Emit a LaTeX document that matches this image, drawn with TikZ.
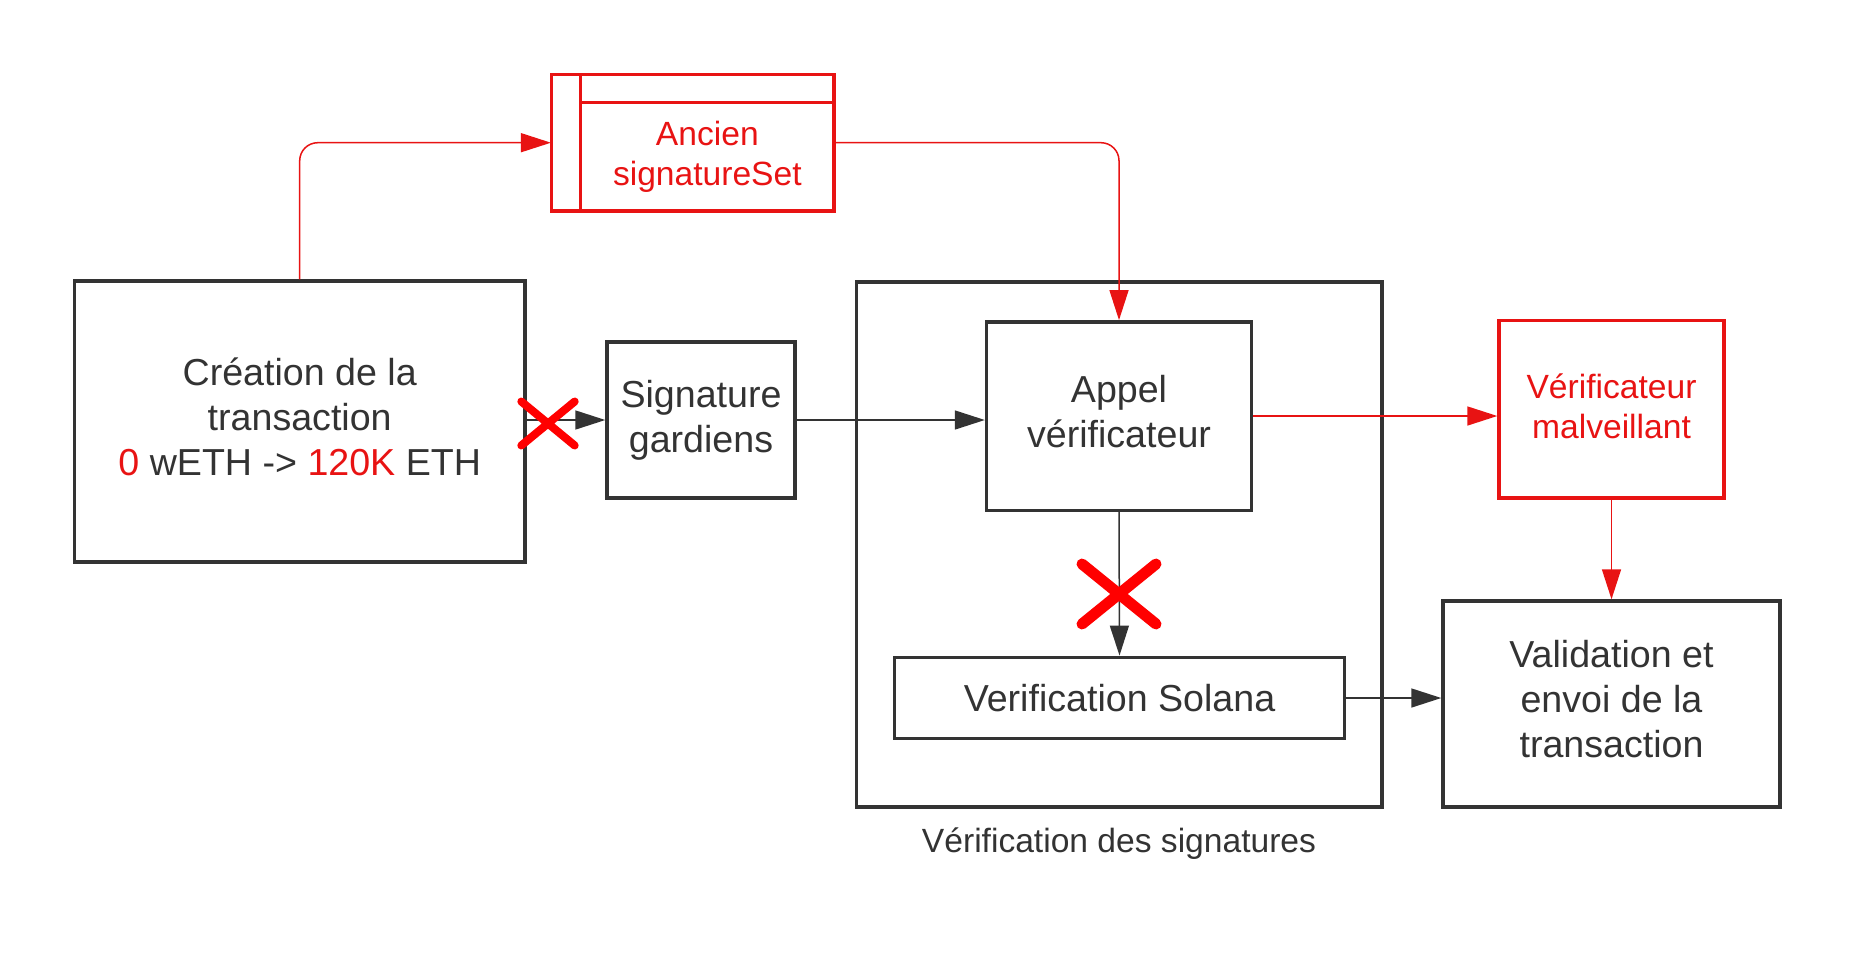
\documentclass[tikz,border=0pt]{standalone}
\usepackage{fontspec}
\setmainfont{Liberation Sans}
\usetikzlibrary{arrows.meta}
\definecolor{ink}{HTML}{333333}
\definecolor{alert}{HTML}{E81313}
\definecolor{crossred}{HTML}{FF0000}
\newcommand{\lowpad}[1]{\rule[-#1]{0pt}{0pt}}
\tikzset{
	box/.style={draw=ink,line width=1.7pt,text=ink,align=center,inner sep=0pt,font=\fontsize{18.8}{22.5}\selectfont},
	redbox/.style={box,draw=alert,text=alert,font=\fontsize{16.8}{20}\selectfont},
	link/.style={draw=ink,line width=0.75pt,-{Triangle[length=15pt,width=9.5pt]}},
	redlink/.style={link,draw=alert,rounded corners=9pt},
	nogo/.style={draw=crossred,line cap=round},
}
\begin{document}
\begin{tikzpicture}[x=0.5pt,y=-0.5pt]
		\useasboundingbox (0,0) rectangle (1856,975);
		\node[box,minimum width=262.75pt,minimum height=262.5pt] (verif) at (1119.2,544.5) {};
		\node[text=ink,font=\fontsize{16.8}{20}\selectfont] (veriflabel) at (1119,843.5) {Vérification des signatures};
		\node[box,minimum width=225.25pt,minimum height=140.5pt] (creation) at (299.7,421.5) {Création de la\\transaction\\{\color{alert}0} wETH -> {\color{alert}120K} ETH\lowpad{4.7pt}};
		\node[box,minimum width=94pt,minimum height=78pt] (signature) at (701,420) {Signature\\gardiens};
		\node[box,minimum width=132.5pt,minimum height=94.2pt] (appel) at (1119,416) {Appel\\vérificateur\lowpad{4.7pt}};
		\node[box,minimum width=225pt,minimum height=40.75pt] (solana) at (1119.5,698) {Verification Solana};
		\node[redbox,minimum width=112.5pt,minimum height=88.7pt] (malveillant) at (1611.5,409.3) {Vérificateur\\malveillant\lowpad{3.5pt}};
		\node[box,minimum width=168.5pt,minimum height=103pt] (validation) at (1611.5,704) {Validation et\\envoi de la\\transaction\lowpad{4.7pt}};
		% ancien signatureSet (table shape)
		\node[redbox,outer sep=0pt,minimum width=126.65pt,minimum height=54.35pt] (ancien) at (707.35,156.65) {Ancien\\signatureSet};
		\draw[alert,line width=1.7pt] (ancien.south west) -- ++(-29,0) |- ([yshift=14pt]ancien.north east) -- (ancien.north east);
		\draw[alert,line width=1.7pt] (ancien.north west) -- ++(0,-28);
		\coordinate (ancienin) at (550.9,142.7);
		\coordinate (ancienout) at (834.9,142.7);
		% connectors
		\draw[redlink] (creation.north) |- (ancienin);
		\draw[redlink] (ancienout) -| (appel.north);
		\draw[link] (creation.east |- signature.west) -- (signature.west);
		\draw[link] (signature.east) -- (signature.east -| appel.west);
		\draw[link] (appel.south) -- (solana.north);
		\draw[link] (solana.east) -- (solana.east -| validation.west);
		\draw[redlink] (appel.east) -- (appel.east -| malveillant.west);
		\draw[redlink] (malveillant.south) -- (validation.north);
		% crosses
		\coordinate (cut1) at (548,423.5);
		\coordinate (cut2) at (1119,594);
		\draw[nogo,line width=4pt] (cut1) +(-26.7,-22) -- +(26.7,22) +(-26.7,22) -- +(26.7,-22);
		\draw[nogo,line width=5.5pt] (cut2) +(-37,-30) -- +(37,30) +(-37,30) -- +(37,-30);
	\end{tikzpicture}
\end{document}
